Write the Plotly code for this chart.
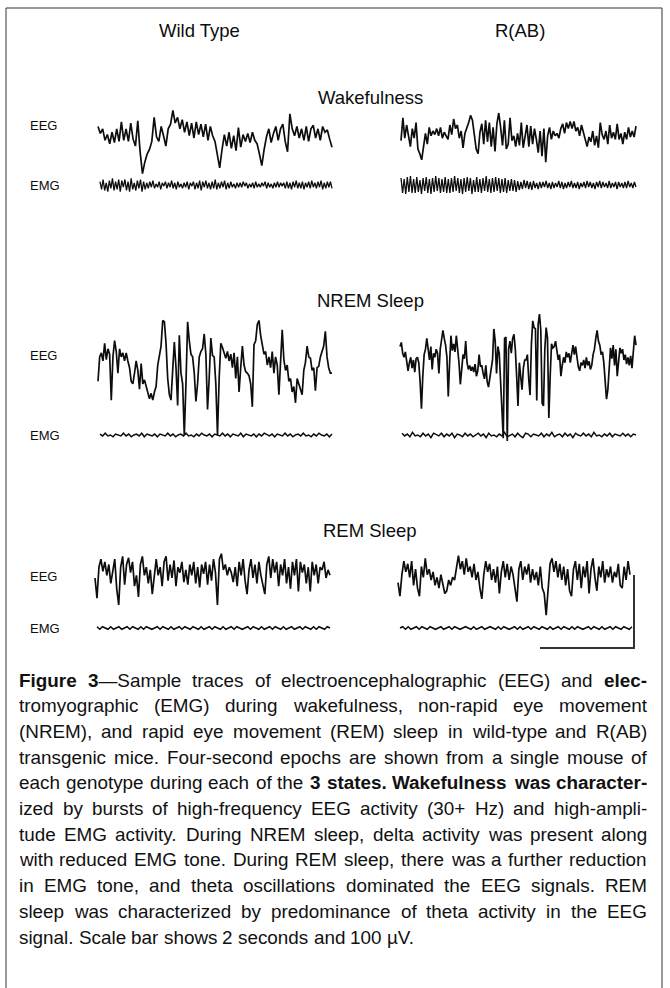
import plotly.graph_objects as go

W, H = 670, 988

COLUMNS = ["Wild Type", "R(AB)"]
STATES = ["Wakefulness", "NREM Sleep", "REM Sleep"]
SIGNALS = ["EEG", "EMG"]

WT_WAKE_EEG = [10, 4, 8, -2, 3, -5, 5, -4, 8, -3, 14, -2, 8, -3, 13, -1, -7, 15, -12, -31, -21, -14, -10, -3, 18, 1,
               -3, 10, 2, -7, 8, 12, 24, 13, 18, 8, 16, 5, 14, 2, 13, 0, 14, 3, 12, 1, 12, -2, 10, 2, -3, -16, -26, -10,
               3, -7, 5, -9, 2, -11, 9, -8, 3, -3, 4, -4, 5, -2, -5, -14, -24, -10, 1, 8, -4, 4, 10, -2, 8, 12, -3, -12,
               21, 8, 2, 10, 0, 8, -2, 10, -3, 8, 11, 0, 8, -2, 10, 5, 7, -1, -8]
RAB_WAKE_EEG = [-3, 16, -1, 10, 1, -8, 7, -1, 12, -10, -14, -19, -8, 3, -6, 8, 1, 5, 2, 7, 1, 8, -1, 4, 1, -2, 10, 2,
                15, 7, 10, -1, 5, -9, 3, 7, 12, 18, 14, 2, -10, -14, 4, 11, -6, 14, -4, 12, -8, 8, -12, 11, 20, 8, -7,
                14, -10, -6, 16, -3, 1, -8, 3, -7, 12, -9, 1, 10, -8, 9, -6, 7, -2, -13, 5, -16, 7, -21, 1, 8, -2, 5, 1,
                3, -1, 7, 11, 3, 12, 7, 13, 7, 13, 5, 8, 1, 10, 4, -1, -8, 0, -4, 5, -7, 1, -9, 12, 2, -2, 5, -6, 10, -1,
                4, -2, 11, -2, 3, -6, 4, -2, 8, 0, 5, 0, 9]
WT_WAKE_EMG = [3, -4, 5, -5, 2, -6, 4, -3, 6, -5, 3, -4, 5, -6, 4, -2, 5, -5, 3, -6, 6, -4, 2, -5, 4, -3, 5, -6, 3, -4,
               2, -3, 3, -2, 4, -3, 1, -2, 3, -4, 2, -1, 3, -3, 2, -2, 4, -3, 2, -4, 3, -2, 1, -3, 2, -2, 3, -4, 2, -1,
               3, -4, 2, -3, 4, -5, 3, -2, 4, -3, 2, -4, 3, -3, 5, -4, 2, -3, 3, -2, 4, -4, 2, -3, 3, -2, 1, -3, 2, -2,
               2, -2, 3, -1, 2, -3, 1, -2, 2, -3, 3, -2, 1, -2, 2, -1, 3, -3, 2, -2, 1, -3, 2, -2, 3, -2, 2, -1, 2, -3,
               3, -3, 2, -4, 3, -2, 4, -3, 2, -3, 3, -4, 2, -2, 3, -3, 4, -2, 2, -3, 3, -2, 4, -4, 2, -3, 3, -2, 3, -3]
RAB_WAKE_EMG = [7, -8, 6, -9, 8, -7, 9, -8, 6, -8, 8, -7, 5, -9, 7, -6, 8, -8, 6, -9, 7, -7, 9, -6, 7, -8, 6, -7, 8, -8,
                6, -8, 7, -7, 9, -6, 7, -8, 6, -9, 7, -7, 8, -6, 7, -9, 5, -7, 8, -7, 6, -8, 7, -6, 9, -7, 6, -8, 7, -7,
                8, -6, 7, -8, 6, -7, 7, -8, 5, -6, 6, -6, 5, -7, 4, -5, 3, -4, 5, -3, 4, -4, 3, -5, 4, -3, 2, -4, 3, -3,
                3, -2, 4, -3, 2, -4, 3, -3, 2, -2, 4, -3, 3, -4, 2, -3, 3, -2, 4, -3, 2, -3, 3, -4, 2, -2, 3, -3, 4, -2,
                3, -3, 2, -4, 3, -2, 4, -3, 3, -2, 2, -3, 4, -3, 2, -2, 3, -4, 3, -2, 2, -3, 3, -3, 4, -2, 2, -3, 3, -2]

WT_NREM_EEG = [-12, 6, 9, 3, 16, 4, 12, 8, -26, 6, 18, 10, -6, 12, 6, 9, 3, 9, 3, -2, -12, -14, -6, 3, -4, -18, 1, -14,
               -11, -16, -20, -25, -21, -26, -20, -16, 0, 9, 14, 33, 32, 16, -10, -22, -26, -4, 17, -2, -30, 22, -6,
               -14, -52, -14, 32, 18, 8, 6, -6, -27, -14, 6, 10, 12, 23, 8, -33, -10, 20, 7, 6, -14, -52, -10, 16, 13,
               9, 5, 10, 3, 8, -2, 9, -10, 6, -20, -2, 14, 0, -5, -6, -8, -14, -31, 15, 18, 30, 33, 22, 14, 8, 10, 0, 6,
               -2, 10, -6, 6, 0, -22, 6, 26, 4, -4, 0, -12, -10, -20, -16, -28, -10, -14, -18, -22, -4, 2, 14, 6, 5, -4,
               -2, -19, -2, -1, 6, 10, 14, 25, 6, -2, -6, -6]
RAB_NREM_EEG = [10, 13, 5, 2, 6, -1, -8, -2, 2, -6, 0, -9, 1, 2, -2, -16, -36, -12, 4, 8, 16, 8, 0, 10, -7, 5, 2, 8, 5,
                -10, 8, 15, 22, 16, 11, 2, -27, -2, 18, 7, 12, 6, 18, 8, -2, -18, -6, 4, 1, 14, -2, -7, -4, -8, -5, -9,
                -3, -12, -8, 4, -5, -4, -10, -14, -4, -16, -20, -12, -4, 0, 23, 14, -10, 10, 5, -12, -36, -58, 16, 17,
                -60, 8, 14, 5, 16, 19, 8, -12, -34, -2, -12, -22, -6, 0, 0, 4, -14, -26, 12, 29, 24, 23, -30, 26, 34,
                22, -32, -34, 8, 24, 16, -43, -12, 12, 9, 10, 14, 8, 0, 4, -12, -4, 2, -2, 6, 2, 5, -2, 6, 11, 4, 10, 2,
                -5, -8, -2, -4, 0, -6, 2, -4, -1, -7, -4, 4, 8, 16, 22, 14, 11, 4, 6, -2, -16, -29, -22, -4, 9, 1, 11,
                -4, 8, -12, 2, 9, 5, 8, 0, 4, -3, 2, -4, 3, -6, 8, 18, 11]
WT_NREM_EMG = [1, -1, 2, -1, 0, -2, 1, 0, -1, 2, -1, 1, -2, 0, 1, -1, 2, -2, 1, 0, -1, 1, -2, 1, 0, -1, 2, -1, 1, -2,
               0, 1, -1, 2, -1, 0, -2, 1, -1, 2, 0, -1, 1, -2, 1, 0, -1, 2, -1, 1, -2, 1, 0, -1, 2, -2, 1, 0, -1, 1,
               -2, 1, -1, 2, 0, -1, 1, -2, 1, 0, -1, 2, -1, 1, -2, 0, 1, -1, 2, -1, 0, -2, 1, -1, 2, 0, -1, 1, -2, 1]
RAB_NREM_EMG = [2, -1, 1, -2, 3, -1, 0, -2, 2, -1, 1, -3, 2, 0, -1, 2, -2, 1, -1, 2, -3, 1, 0, -2, 2, -1, 1, -2, 0, 2,
                -1, 1, -3, 2, -1, 0, -2, 1, -1, 3, -2, 0, 1, -2, 2, -1, -3, 2, 1, -2, 1, 0, -1, 2, -2, 1, -1, 3, -2, 0,
                1, -2, 2, -1, 1, -3, 2, 0, -1, 2, -1, 1, -2, 3, -1, 0, -2, 1, -1, 2, -2, 1, 0, -1, 2, -1, 1, -2, 1, 0]

WT_REM_EEG = [0, -15, 8, 14, 5, 12, 2, 10, -4, 6, 14, -8, -20, 8, 16, -5, 10, 15, 4, 12, -6, 2, -14, 10, 16, 2, 8, -4,
              6, -12, 4, 14, 2, 8, -6, 12, 16, -2, 10, 0, 13, -6, 8, 4, 12, -3, 6, -5, 10, 2, 12, -4, 8, -7, 10, 3, 12,
              -5, 10, -2, 14, 4, -20, 14, 18, 6, 10, 2, 8, 4, -3, 8, -6, 12, 2, 14, -2, -12, 6, 14, 0, 10, -4, 12, 2,
              -6, -12, 10, 16, 0, 14, 4, 12, -6, 10, 2, 14, -4, 8, -8, 12, 2, 14, -10, 12, 4, 10, -4, 8, -10, 12, 2, 10,
              -4, 8, 6, 12, 0, 6, 2]
RAB_REM_EEG = [-2, -12, 4, 14, 6, 12, 2, 14, -4, 8, -6, -12, 10, 2, 16, 4, 8, 0, 6, -4, 2, -6, 4, -2, -10, -8, 0, -4, 2,
               0, 10, 18, 8, 14, 4, 16, 6, 10, 2, 12, 0, 6, -6, -14, 4, 14, 6, 12, 0, 8, -2, 10, -10, 6, 14, 2, 12, 0,
               10, 4, -6, -16, 8, 14, 0, 10, 4, 12, -2, 8, 0, 6, -4, 10, -6, -10, -26, -6, 12, 16, 6, 14, 2, 12, 0, 10,
               -4, 8, -8, -12, 8, 14, 0, 12, -6, 10, 2, 14, -10, 8, 16, 2, -8, 10, 2, 14, -2, 8, 2, 10, -2, 6, 2, 12,
               -4, -6, 10, 0, 14, 4]
WT_REM_EMG = [1, -1, 1, 0, -1, 1, -1, 0, 1, -1, 0, 1, -1, 1, 0, -1, 1, -1, 1, 0, -1, 0, 1, -1, 1, 0, -1, 1, -1, 0, 1,
              -1, 1, 0, -1, 1, 0, -1, 1, -1, 0, 1, -1, 1, 0, -1, 1, -1, 0, 1, -1, 1, 0, -1, 0, 1, -1, 1, 0, -1, 1, -1,
              0, 1, -1, 1, 0, -1, 1, -1, 0, 1, -1, 0, 1, -1, 1, 0, -1, 1, -1, 1, 0, -1, 1, 0]
RAB_REM_EMG = [0, 1, -1, 1, -1, 0, 1, -1, 1, 0, -1, 1, 0, -1, 0, 1, -1, 0, 1, -1, 1, 0, -1, 0, 1, 0, -1, 1, -1, 0, 1,
               -1, 0, 1, 0, -1, 1, -1, 1, 0, -1, 0, 1, -1, 1, -1, 0, 1, -1, 1, 0, -1, 1, 0, -1, 1, -1, 0, 1, -1, 1, 0,
               -1, 1, -1, 1, 0, -1, 0, 1, -1, 1, 0, -1, 1, -1, 0, 1, -1, 1, 0, -1, 1, 0, -1, 1]

SCALE_SECONDS = 2
SCALE_UV = 100

CAPTION_LINES = [
    "<b>Figure</b> <b>3</b>\u2014Sample traces of electroencephalographic (EEG) and <b>elec-</b>",
    "tromyographic (EMG) during wakefulness, non-rapid eye movement",
    "(NREM), and rapid eye movement (REM) sleep in wild-type and R(AB)",
    "transgenic mice. Four-second epochs are shown from a single mouse of",
    "each genotype during each of the <b>3</b> <b>states.</b> <b>Wakefulness</b> <b>was</b> <b>character-</b>",
    "ized by bursts of high-frequency EEG activity (30+ Hz) and high-ampli-",
    "tude EMG activity. During NREM sleep, delta activity was present along",
    "with reduced EMG tone. During REM sleep, there was a further reduction",
    "in EMG tone, and theta oscillations dominated the EEG signals. REM",
    "sleep was characterized by predominance of theta activity in the EEG",
    "signal. Scale bar shows 2 seconds and 100 \u00b5V.",
]

FONT = "Liberation Sans, Arial, sans-serif"
INK = "#0d0d0d"

# panel: data, left px, right px, zero-line px, px per unit, line width
PANELS = [
    (WT_WAKE_EEG, 98, 332, 138, 1.15, 1.7),
    (RAB_WAKE_EEG, 401, 636, 137, 1.2, 1.7),
    (WT_WAKE_EMG, 100, 332, 185, 1.1, 1.3),
    (RAB_WAKE_EMG, 401, 636, 185, 1.0, 1.3),
    (WT_NREM_EEG, 98, 332, 365, 1.35, 1.7),
    (RAB_NREM_EEG, 400, 636, 360, 1.35, 1.7),
    (WT_NREM_EMG, 100, 332, 435, 0.9, 1.5),
    (RAB_NREM_EMG, 402, 636, 435, 0.9, 1.5),
    (WT_REM_EEG, 95, 330, 578, 1.35, 1.7),
    (RAB_REM_EEG, 398, 630, 580, 1.35, 1.7),
    (WT_REM_EMG, 97, 330, 628, 1.3, 1.5),
    (RAB_REM_EMG, 400, 632, 628, 1.3, 1.5),
]

fig = go.Figure()
layout = dict(width=W, height=H, margin=dict(l=0, r=0, t=0, b=0), paper_bgcolor="white",
              plot_bgcolor="rgba(0,0,0,0)", showlegend=False)

PAD = 4
HALF = 95
for i, (vals, x0, x1, cy, gain, lw) in enumerate(PANELS, start=1):
    n = len(vals)
    k = (n - 1) / (x1 - x0)
    xa = "x" if i == 1 else f"x{i}"
    ya = "y" if i == 1 else f"y{i}"
    fig.add_trace(go.Scatter(x=list(range(n)), y=vals, mode="lines", xaxis=xa, yaxis=ya,
                             line=dict(color=INK, width=lw), hoverinfo="skip"))
    layout[f"xaxis{'' if i == 1 else i}"] = dict(domain=[(x0 - PAD) / W, (x1 + PAD) / W],
                                                 range=[-PAD * k, n - 1 + PAD * k], visible=False, anchor=ya)
    layout[f"yaxis{'' if i == 1 else i}"] = dict(domain=[1 - (cy + HALF) / H, 1 - (cy - HALF) / H],
                                                 range=[-HALF / gain, HALF / gain], visible=False, anchor=xa)

# scale bar: its own axes (2 s horizontal, 100 uV vertical)
sb = len(PANELS) + 1
sx0, sx1, sy_bottom, sy_top = 540, 634, 648, 575
SPAD = 10
kx = SCALE_SECONDS / (sx1 - sx0)
ky = SCALE_UV / (sy_bottom - sy_top)
fig.add_trace(go.Scatter(x=[0, SCALE_SECONDS, SCALE_SECONDS], y=[0, 0, SCALE_UV], mode="lines",
                         xaxis=f"x{sb}", yaxis=f"y{sb}", line=dict(color="#333333", width=2), hoverinfo="skip"))
layout[f"xaxis{sb}"] = dict(domain=[(sx0 - SPAD) / W, (sx1 + SPAD) / W],
                            range=[-SPAD * kx, SCALE_SECONDS + SPAD * kx], visible=False, anchor=f"y{sb}")
layout[f"yaxis{sb}"] = dict(domain=[1 - (sy_bottom + SPAD) / H, 1 - (sy_top - SPAD) / H],
                            range=[-SPAD * ky, SCALE_UV + SPAD * ky], visible=False, anchor=f"x{sb}")
shapes = [
    dict(type="rect", xref="paper", yref="paper", x0=6 / W, x1=662 / W, y0=-0.02, y1=1 - 8 / H,
         line=dict(color="#333333", width=1), fillcolor="rgba(0,0,0,0)"),
]

annotations = []


def txt(x, y, s, size, xanchor="center", color=INK):
    annotations.append(dict(x=x / W, y=1 - y / H, xref="paper", yref="paper", text=s, showarrow=False,
                            xanchor=xanchor, yanchor="middle", font=dict(family=FONT, size=size, color=color)))


for name, cx in zip(COLUMNS, [200, 520]):
    txt(cx, 30, name, 18.5)
for name, cy in zip(STATES, [98, 300, 530]):
    txt(370, cy, name, 18.5)
for cy_eeg, cy_emg in [(125, 185), (355, 435), (576, 628)]:
    txt(28, cy_eeg, SIGNALS[0], 13, "left")
    txt(28, cy_emg, SIGNALS[1], 13, "left")

REG = dict(zip("abcdefghijklmnopqrstuvwxyz",
               [556, 556, 500, 556, 556, 278, 556, 556, 222, 222, 500, 222, 833, 556, 556, 556, 556, 333, 500, 278,
                556, 500, 722, 500, 500, 500]))
REG.update(dict(zip("ABCDEFGHIJKLMNOPQRSTUVWXYZ",
                    [667, 667, 722, 722, 667, 611, 778, 722, 278, 500, 667, 556, 833, 722, 778, 667, 778, 722, 667,
                     611, 722, 667, 944, 667, 667, 611])))
REG.update({c: 556 for c in "0123456789"})
REG.update({" ": 278, ".": 278, ",": 278, "-": 333, "(": 333, ")": 333, "+": 584, "\u2014": 1000, "\u00b5": 576,
            ":": 278})
BOLD = dict(REG)
BOLD.update(dict(zip("abcdefghijklmnopqrstuvwxyz",
                     [556, 611, 556, 611, 556, 333, 611, 611, 278, 278, 556, 278, 889, 611, 611, 611, 611, 389, 556,
                      333, 611, 556, 778, 556, 556, 500])))
BOLD.update({"W": 944, "F": 611})


def word_width(word):
    w, bold, i = 0, False, 0
    while i < len(word):
        if word.startswith("<b>", i):
            bold, i = True, i + 3
            continue
        if word.startswith("</b>", i):
            bold, i = False, i + 4
            continue
        w += (BOLD if bold else REG).get(word[i], 556)
        i += 1
    return w / 1000.0


CAP_LEFT, CAP_RIGHT, CAP_TOP, CAP_STEP = 20, 648, 680, 25.7
span = CAP_RIGHT - CAP_LEFT
line_em = [sum(word_width(w) for w in ln.split(" ")) + 0.278 * (len(ln.split(" ")) - 1) for ln in CAPTION_LINES]
fsize = min(19.0, min(span / e for e in line_em[:-1]) * 0.985)

for li, line in enumerate(CAPTION_LINES):
    words = line.split(" ")
    widths = [word_width(w) * fsize for w in words]
    y = CAP_TOP + li * CAP_STEP
    if li < len(CAPTION_LINES) - 1:
        gap = (span - sum(widths)) / (len(words) - 1)
    else:
        gap = 0.278 * fsize
    x = CAP_LEFT
    for w, wd in zip(words, widths):
        annotations.append(dict(x=(x - 2) / W, y=1 - y / H, xref="paper", yref="paper", text=w, showarrow=False,
                                xanchor="left", yanchor="middle", borderpad=0,
                                font=dict(family=FONT, size=fsize, color="#111111")))
        x += wd + gap

layout["annotations"] = annotations
layout["shapes"] = shapes
fig.update_layout(**layout)

fig.write_html("out.html", config={"displayModeBar": False, "staticPlot": True},
               post_script="document.body.style.margin='0';document.body.style.overflow='hidden';")
